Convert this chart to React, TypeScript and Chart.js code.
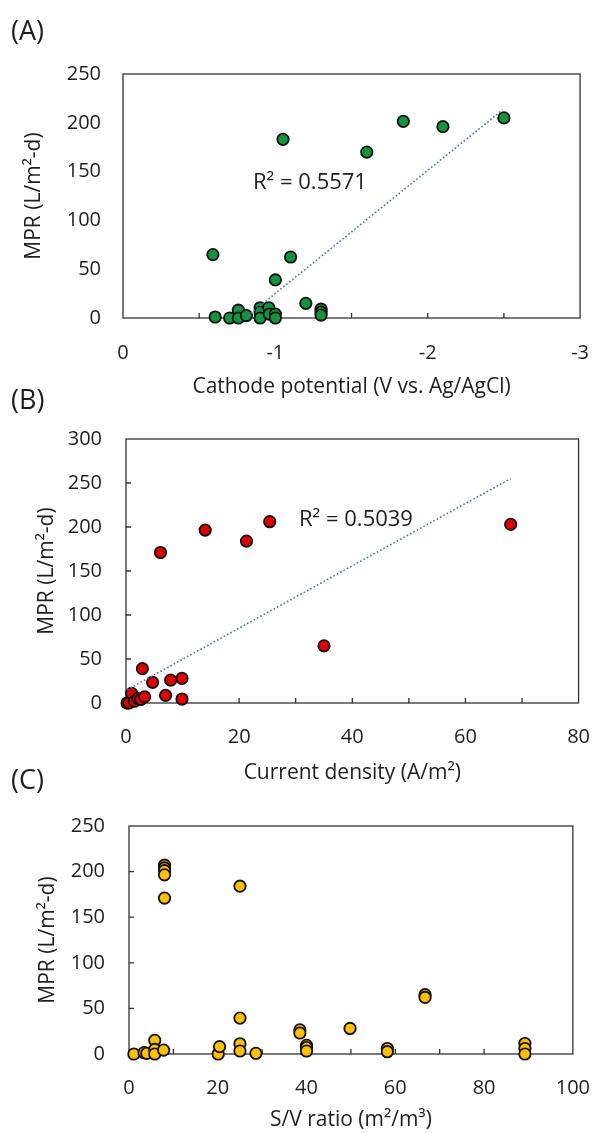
import React, { useEffect, useRef } from "react";
import { Chart, registerables } from "chart.js";

Chart.register(...registerables);

const FONT = "'Open Sans', sans-serif";
const TEXT = "#1e1e1e";

// Panel A: cathode potential (V vs. Ag/AgCl) vs MPR
const aX = [-0.59, -0.605, -0.7, -0.757, -0.757, -0.81, -0.9, -0.9, -0.9, -0.957, -0.96, -1.0, -1.0, -1.0, -1.05, -1.1, -1.2, -1.3, -1.3, -1.3, -1.6, -1.84, -2.1, -2.5];
const aY = [65, 1, 0, 8, 0, 2.5, 10.5, 6, 0, 10.5, 4, 4, 0, 39, 183, 62.5, 15, 9, 6, 3, 170, 201.5, 196, 205];
const aTrendX = [-0.8, -2.49];
const aTrendY = [0, 213];

// Panel B: current density (A/m2) vs MPR
const bX = [0.2, 0.5, 1.0, 1.5, 2.1, 2.6, 3.3, 2.9, 4.7, 7.0, 7.9, 9.9, 9.9, 6.1, 14.0, 21.3, 25.4, 35.0, 68.0];
const bY = [0, 0, 11, 2, 5, 4, 7, 39, 23.5, 8.7, 26, 28, 4.5, 171, 196.5, 184, 206, 65, 203];
const bTrendX = [0.2, 68];
const bTrendY = [15, 255];

// Panel C: S/V ratio (m2/m3) vs MPR
const cX = [1.1, 3.4, 4.0, 5.8, 5.8, 5.8, 7.8, 8, 8, 8, 8, 8, 20.1, 20.4, 25, 25, 25, 25, 28.6, 38.5, 38.5, 40, 40, 40, 49.8, 58.2, 58.2, 66.7, 66.7, 89.2, 89.2, 89.2];
const cY = [0, 1.5, 0.7, 15, 5, 0, 4.2, 207, 204, 201, 196.5, 171, 0, 8, 184, 39.3, 11.2, 3.3, 0.7, 26.5, 23, 9.5, 7, 3.3, 28, 6, 2.5, 65, 62, 11.5, 6, 0];

const panelLabels = ["(A)", "(B)", "(C)"];
const xTitles = ["Cathode potential (V vs. Ag/AgCl)", "Current density (A/m²)", "S/V ratio (m²/m³)"];
const yTitle = "MPR (L/m²-d)";
const r2Labels = ["R² = 0.5571", "R² = 0.5039"];

const framePlugin = {
  id: "frame",
  beforeDatasetsDraw(chart: any, _args: any, opts: any) {
    const { ctx, chartArea: a, scales } = chart;
    ctx.save();
    ctx.strokeStyle = "#333";
    ctx.lineWidth = 1.3;
    ctx.strokeRect(a.left, a.top, a.right - a.left, a.bottom - a.top);
    const len = 5;
    ctx.beginPath();
    if (opts.xTicks) {
      for (const t of scales.x.ticks) {
        const px = scales.x.getPixelForValue(t.value);
        if (Math.abs(px - a.left) < 1 || Math.abs(px - a.right) < 1) continue;
        ctx.moveTo(px, a.bottom);
        ctx.lineTo(px, a.bottom - len);
      }
    }
    if (opts.yTicks) {
      for (const t of scales.y.ticks) {
        const py = scales.y.getPixelForValue(t.value);
        if (Math.abs(py - a.top) < 1 || Math.abs(py - a.bottom) < 1) continue;
        ctx.moveTo(a.left, py);
        ctx.lineTo(a.left + len, py);
      }
    }
    ctx.stroke();
    ctx.restore();
  },
};

type Spec = {
  xs: number[];
  ys: number[];
  tx?: number[];
  ty?: number[];
  color: string;
  xMin: number;
  xMax: number;
  xStep: number;
  labelEvery: number;
  reverse: boolean;
  yMax: number;
  yTicks: boolean;
  xTitle: string;
  height: number;
  padTop: number;
  boxRight: number;
  yWidth: number;
  yLabelPad: number;
  yTitlePad: number;
  xHeight: number;
  xLabelPad: number;
  xTitlePadBottom: number;
};

function makeConfig(s: Spec): any {
  const datasets: any[] = [];
  if (s.tx && s.ty) {
    datasets.push({
      type: "line",
      data: s.tx.map((x, i) => ({ x, y: s.ty![i] })),
      borderColor: "#4472C4",
      borderWidth: 1.6,
      borderDash: [1.6, 2.2],
      pointRadius: 0,
      fill: false,
      order: 0,
    });
  }
  datasets.push({
    type: "scatter",
    data: s.xs.map((x, i) => ({ x, y: s.ys[i] })),
    backgroundColor: s.color,
    borderColor: "#111",
    borderWidth: 1.8,
    pointRadius: 5.7,
    clip: false,
    order: 1,
  });
  return {
    type: "scatter",
    data: { datasets },
    plugins: [framePlugin],
    options: {
      animation: false,
      responsive: false,
      events: [],
      layout: { padding: { top: s.padTop, right: 612 - s.boxRight, left: 0, bottom: 0 } },
      plugins: {
        legend: { display: false },
        tooltip: { enabled: false },
        frame: { xTicks: true, yTicks: s.yTicks },
      },
      scales: {
        x: {
          type: "linear",
          min: s.xMin,
          max: s.xMax,
          reverse: s.reverse,
          grid: { display: false, drawTicks: false },
          border: { display: false },
          ticks: {
            stepSize: s.xStep,
            autoSkip: false,
            maxRotation: 0,
            padding: s.xLabelPad,
            color: TEXT,
            font: { family: FONT, size: 20 },
            callback: (v: number) => (Math.abs(v / s.labelEvery - Math.round(v / s.labelEvery)) < 1e-6 ? String(Math.round(v)) : ""),
          },
          title: {
            display: true,
            text: s.xTitle,
            color: TEXT,
            font: { family: FONT, size: 21 },
            padding: { top: 0, bottom: s.xTitlePadBottom },
          },
          afterFit: (sc: any) => {
            sc.height = s.xHeight;
          },
        },
        y: {
          type: "linear",
          min: 0,
          max: s.yMax,
          grid: { display: false, drawTicks: false },
          border: { display: false },
          ticks: {
            stepSize: 50,
            padding: s.yLabelPad,
            color: TEXT,
            font: { family: FONT, size: 20 },
          },
          title: {
            display: true,
            text: yTitle,
            color: TEXT,
            font: { family: FONT, size: 21 },
            padding: { top: s.yTitlePad, bottom: 0 },
          },
          afterFit: (sc: any) => {
            sc.width = s.yWidth;
          },
        },
      },
    },
  };
}

const specs: Spec[] = [
  {
    xs: aX, ys: aY, tx: aTrendX, ty: aTrendY, color: "#13953d",
    xMin: -3, xMax: 0, xStep: 0.5, labelEvery: 1, reverse: true, yMax: 250, yTicks: false,
    xTitle: xTitles[0], height: 360, padTop: 20, boxRight: 591, yWidth: 123, yLabelPad: 22, yTitlePad: 21,
    xHeight: 82, xLabelPad: 23, xTitlePadBottom: 0,
  },
  {
    xs: bX, ys: bY, tx: bTrendX, ty: bTrendY, color: "#e00000",
    xMin: 0, xMax: 80, xStep: 10, labelEvery: 20, reverse: false, yMax: 300, yTicks: true,
    xTitle: xTitles[1], height: 390, padTop: 39, boxRight: 591, yWidth: 126, yLabelPad: 24, yTitlePad: 34,
    xHeight: 87, xLabelPad: 22, xTitlePadBottom: 4,
  },
  {
    xs: cX, ys: cY, color: "#ffc000",
    xMin: 0, xMax: 100, xStep: 10, labelEvery: 20, reverse: false, yMax: 250, yTicks: true,
    xTitle: xTitles[2], height: 343, padTop: 27, boxRight: 592, yWidth: 129, yLabelPad: 24, yTitlePad: 35,
    xHeight: 79, xLabelPad: 22, xTitlePadBottom: 0,
  },
];

const tops = [40, 400, 790];
const labelTops = [29, 398, 778];
const r2Pos = [
  { x: 310, y: 180 },
  { x: 356, y: 517 },
];

function Panel({ spec, top }: { spec: Spec; top: number }) {
  const ref = useRef<HTMLCanvasElement | null>(null);
  useEffect(() => {
    if (!ref.current) return;
    const chart = new Chart(ref.current, makeConfig(spec));
    return () => chart.destroy();
  }, [spec]);
  return (
    <canvas
      ref={ref}
      width={612}
      height={spec.height}
      style={{ position: "absolute", left: 0, top, width: 612, height: spec.height }}
    />
  );
}

export default function App() {
  return (
    <div style={{ position: "absolute", left: 0, top: 0, width: 612, height: 1133, background: "#fff", fontFamily: FONT, color: TEXT }}>
      {specs.map((s, i) => (
        <Panel key={i} spec={s} top={tops[i]} />
      ))}
      {panelLabels.map((t, i) => (
        <div
          key={t}
          style={{ position: "absolute", left: 11, top: labelTops[i], transform: "translateY(-50%)", fontSize: 27, lineHeight: 1, whiteSpace: "nowrap" }}
        >
          {t}
        </div>
      ))}
      {r2Labels.map((t, i) => (
        <div
          key={t}
          style={{ position: "absolute", left: r2Pos[i].x, top: r2Pos[i].y, transform: "translate(-50%,-50%)", fontSize: 22, lineHeight: 1, whiteSpace: "nowrap" }}
        >
          {t}
        </div>
      ))}
    </div>
  );
}
